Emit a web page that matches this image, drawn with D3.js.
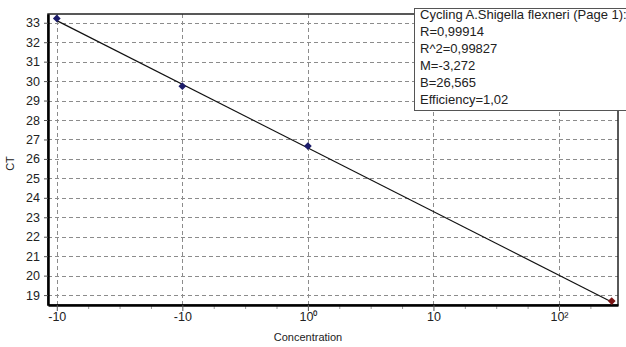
<!DOCTYPE html>
<html>
<head>
<meta charset="utf-8">
<script src="https://cdn.jsdelivr.net/npm/d3@7"></script>
<style>
  html, body { margin: 0; padding: 0; background: #fff; }
  svg { display: block; font-family: "Liberation Sans", Arial, sans-serif; }
</style>
</head>
<body>
<svg id="chart" width="626" height="347"></svg>
<script>
// Standard points (log10 concentration, CT)
const stdLogConc = [-2, -1, 0];
const stdCT = [33.22, 29.74, 26.66];
// Unknown sample
const unkLogConc = [2.42];
const unkCT = [18.69];

// Regression results
const slopeM = -3.272;
const interceptB = 26.565;
const legendLines = [
  "Cycling A.Shigella flexneri (Page 1):",
  "R=0,99914",
  "R^2=0,99827",
  "M=-3,272",
  "B=26,565",
  "Efficiency=1,02"
];

// Axis ticks
const yTicks = [19, 20, 21, 22, 23, 24, 25, 26, 27, 28, 29, 30, 31, 32, 33];
const xMajorTicks = [-2, -1, 0, 1, 2];
const xTickLabels = ["-10", "-10", "10\u2070", "10", "10\u00B2"];

const svg = d3.select("#chart");
const plotL = 48, plotR = 618, plotT = 14, plotB = 305;

const x = d3.scaleLinear().domain([-2.07, 2.47]).range([plotL, plotR]);
const y = d3.scaleLinear().domain([18.49, 33.45]).range([plotB, plotT]);

// Grid
const grid = svg.append("g").attr("stroke", "#8c8c8c").attr("stroke-width", 1)
  .attr("stroke-dasharray", "4,3").attr("shape-rendering", "crispEdges");
grid.selectAll("line.h").data(yTicks).join("line")
  .attr("x1", plotL).attr("x2", plotR)
  .attr("y1", d => Math.round(y(d)) + 0.5).attr("y2", d => Math.round(y(d)) + 0.5);
grid.selectAll("line.v").data(xMajorTicks).join("line")
  .attr("y1", plotT).attr("y2", plotB)
  .attr("x1", d => Math.round(x(d)) + 0.5).attr("x2", d => Math.round(x(d)) + 0.5);

// Frame: thin top/right, heavy left/bottom
svg.append("rect").attr("x", plotL).attr("y", plotT)
  .attr("width", plotR - plotL).attr("height", plotB - plotT)
  .attr("fill", "none").attr("stroke", "#222").attr("stroke-width", 1.5);

// Y axis
const yAxis = d3.axisLeft(y).tickValues(yTicks).tickSize(4).tickSizeOuter(0);
const gy = svg.append("g").attr("transform", `translate(${plotL},0)`).call(yAxis);
gy.select(".domain").attr("stroke", "#000").attr("stroke-width", 2.5);
gy.selectAll(".tick line").attr("stroke", "#555");
gy.selectAll(".tick text").attr("font-size", 12.5).attr("fill", "#222")
  .attr("font-family", "Liberation Sans, Arial, sans-serif").attr("dx", -1);

// X axis with quarter-decade minor ticks
const xMinor = d3.range(-2, 2.5, 0.25).filter(v => !xMajorTicks.includes(v));
const gxMinor = svg.append("g").attr("transform", `translate(0,${plotB})`)
  .call(d3.axisBottom(x).tickValues(xMinor).tickSize(4).tickFormat(""));
gxMinor.select(".domain").remove();
gxMinor.selectAll(".tick line").attr("stroke", "#999");

const gx = svg.append("g").attr("transform", `translate(0,${plotB})`)
  .call(d3.axisBottom(x).tickValues(xMajorTicks).tickSize(6).tickSizeOuter(0)
    .tickFormat((d, i) => xTickLabels[i]));
gx.select(".domain").attr("stroke", "#000").attr("stroke-width", 2.5);
gx.selectAll(".tick line").attr("stroke", "#555");
gx.selectAll(".tick text").attr("font-size", 12.5).attr("fill", "#222")
  .attr("font-family", "Liberation Sans, Arial, sans-serif").attr("y", 7);

// Axis titles
svg.append("text").attr("x", 308).attr("y", 341).attr("text-anchor", "middle")
  .attr("font-size", 11).attr("fill", "#222").text("Concentration");
svg.append("text").attr("transform", `translate(14,${(plotT + plotB) / 2 + 4}) rotate(-90)`)
  .attr("text-anchor", "middle").attr("font-size", 11).attr("fill", "#222").text("CT");

// Regression line across the data range
const lineX = [stdLogConc[0], unkLogConc[0]];
svg.append("line")
  .attr("x1", x(lineX[0])).attr("y1", y(slopeM * lineX[0] + interceptB))
  .attr("x2", x(lineX[1])).attr("y2", y(slopeM * lineX[1] + interceptB))
  .attr("stroke", "#111").attr("stroke-width", 1.2);

// Markers: small squares turned 45 degrees
const diamond = d3.symbol().type(d3.symbolSquare).size(30);
svg.append("g").selectAll("path").data(stdLogConc).join("path")
  .attr("d", diamond)
  .attr("transform", (d, i) => `translate(${x(d)},${y(stdCT[i])}) rotate(45)`)
  .attr("fill", "#1c1c6b");
svg.append("g").selectAll("path").data(unkLogConc).join("path")
  .attr("d", diamond)
  .attr("transform", (d, i) => `translate(${x(d)},${y(unkCT[i])}) rotate(45)`)
  .attr("fill", "#7a1414");

// Results box
const box = svg.append("g");
box.append("rect").attr("x", 414.5).attr("y", 8.5).attr("width", 220).attr("height", 102)
  .attr("fill", "#fff").attr("stroke", "#555").attr("stroke-width", 1);
box.selectAll("text").data(legendLines).join("text")
  .attr("x", 420).attr("y", (d, i) => 19 + i * 17)
  .attr("font-size", 13).attr("fill", "#222").text(d => d);
</script>
</body>
</html>
